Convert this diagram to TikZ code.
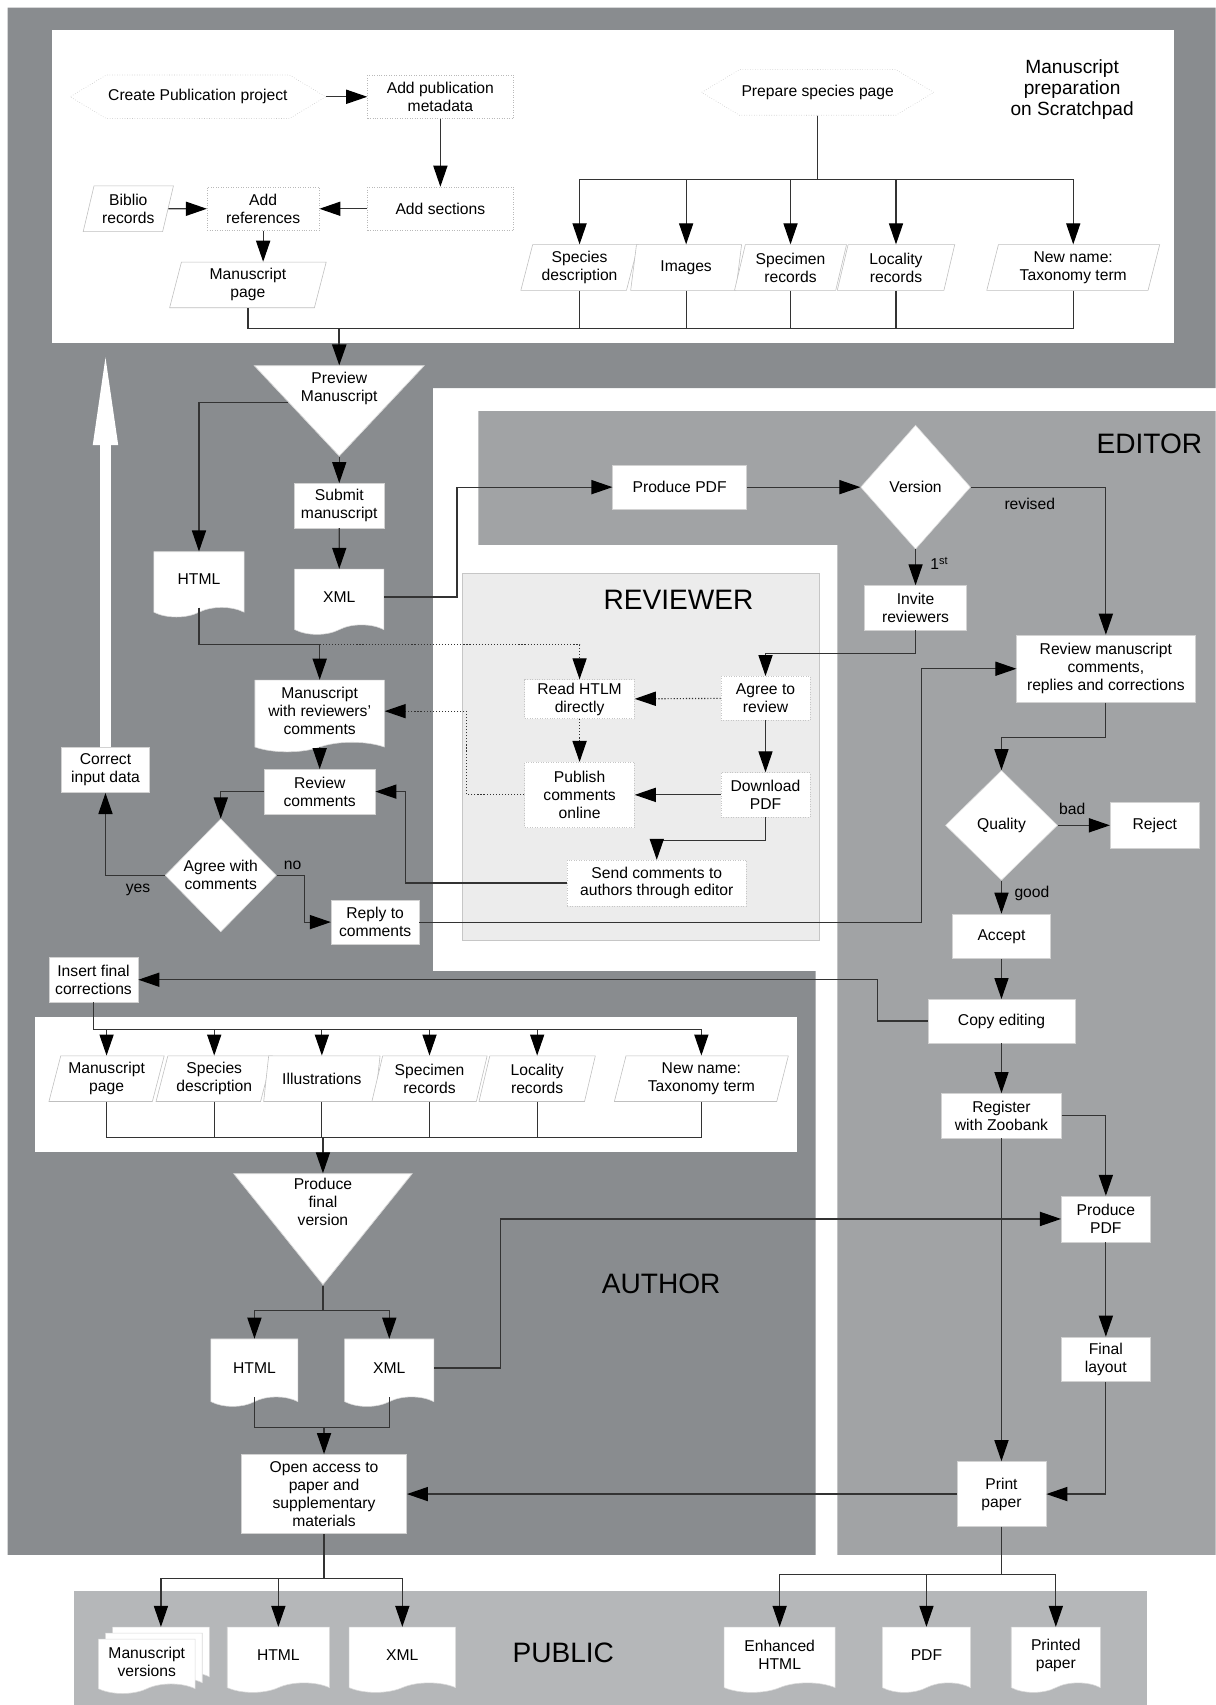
\documentclass[tikz,border=0pt]{standalone}
\usepackage{fontspec}
\setmainfont{Liberation Sans}
\usetikzlibrary{arrows.meta, shapes.geometric, shapes.symbols, calc}
\definecolor{authgray}{RGB}{137,140,143}
\definecolor{edgray}{RGB}{161,163,165}
\definecolor{revgray}{RGB}{236,236,236}
\definecolor{pubgray}{RGB}{181,183,185}
\newlength{\ux}
\setlength{\ux}{0.02cm}

\begin{document}
\begin{tikzpicture}[x=0.02cm, y=-0.02cm, >={Triangle[length=11pt,width=7.4pt,color=black]},
    every node/.style={font=\fontsize{8.2}{9.4}\selectfont, align=center, inner sep=1pt},
    box/.style={rectangle, fill=white, draw=gray!35, line width=0.3pt},
    dbox/.style={box, draw=gray!55, densely dotted},
    rbox/.style={box, draw=gray!45, densely dotted},
    para/.style={trapezium, trapezium left angle=72, trapezium right angle=108, trapezium stretches body,
      fill=white, draw=gray!50, line width=0.3pt, minimum height=42\ux},
    hexa/.style={signal, signal to=west and east, signal pointer angle=62, fill=white, draw=gray!45,
      densely dotted, line width=0.3pt},
    doc/.style={tape, tape bend top=none, tape bend bottom=in and out, tape bend height=5pt,
      fill=white, draw=gray!30, line width=0.3pt},
    dia/.style={diamond, fill=white, draw=gray!30, line width=0.3pt},
    tri/.style={isosceles triangle, isosceles triangle stretches, shape border rotate=270,
      fill=white, draw=gray!30, inner sep=0pt, anchor=north},
    conn/.style={draw=black!80, line width=0.6pt},
    arr/.style={conn, ->},
    big/.style={font=\fontsize{14.7}{17}\selectfont}]

  \useasboundingbox (0,0) rectangle (1118,1568);

  % backgrounds
  \fill[authgray] (7,7) -- (1118,7) -- (1118,357) -- (398,357) -- (398,893) -- (750,893)
    -- (750,1430) -- (7,1430) -- cycle;
  \fill[edgray] (440,378) -- (1118,378) -- (1118,1430) -- (770,1430) -- (770,501) -- (440,501) -- cycle;
  \filldraw[fill=revgray, draw=gray!45, line width=0.3pt] (425,527) rectangle (753,865);
  \fill[white] (48,28) rectangle (1080,315);
  \fill[white] (32,935) rectangle (733,1059);
  \fill[pubgray] (68,1463) rectangle (1055,1568);

  % manuscript preparation on Scratchpad
  \node[hexa, minimum width=226\ux, minimum height=40\ux] (cpp) at (182,89) {Create Publication project};
  \node[dbox, minimum width=134\ux, minimum height=40\ux] (apm) at (405,89) {Add publication\\metadata};
  \node[dbox, minimum width=134\ux, minimum height=40\ux] (ase) at (405,192) {Add sections};
  \node[dbox, minimum width=103\ux, minimum height=40\ux] (are) at (242,192) {Add\\references};
  \node[para, minimum width=83\ux] (bib) at (118,192) {Biblio\\records};
  \node[para, minimum width=144\ux] (mpg) at (228,262) {Manuscript\\page};
  \node[hexa, minimum width=211\ux, minimum height=42\ux] (psp) at (752,85) {Prepare species page};
  \node[para, minimum width=108\ux] (sd) at (533,246) {Species\\description};
  \node[para, minimum width=102\ux] (img) at (631,246) {Images};
  \node[para, minimum width=103\ux] (spr) at (727,246) {Specimen\\records};
  \node[para, minimum width=108\ux] (lor) at (824,246) {Locality\\records};
  \node[para, minimum width=159\ux] (nnt) at (987,246) {New name:\\Taxonomy term};
  \node[font=\fontsize{10}{11}\selectfont] (msp) at (986,82) {Manuscript\\preparation\\on Scratchpad};

  \draw[arr] (cpp.east) -- (apm.west);
  \draw[arr] (apm) -- (ase);
  \draw[arr] (ase) -- (are);
  \draw[arr] (bib) -- (are);
  \draw[arr] (are.south) -- (are.south |- mpg.north);
  \foreach \n in {sd,img,spr,lor,nnt}
    \draw[arr] (psp.south) -- ++(0,59) -| (\n.north);
  \coordinate (mbus) at (312,302);
  \foreach \n in {sd,img,spr,lor,nnt,mpg}
    \draw[conn] (\n.south) |- (mbus);

  % author
  \node[tri, minimum width=156\ux, minimum height=83\ux] (pv) at (312,336) {};
  \node (pvt) at (312,357) {Preview\\Manuscript};
  \node[box, minimum width=82\ux, minimum height=41\ux] (sub) at (312,465) {Submit\\manuscript};
  \node[doc, minimum width=82\ux, minimum height=60\ux] (xml1) at (312,549) {XML};
  \node[doc, minimum width=83\ux, minimum height=60\ux] (html1) at (183,533) {HTML};
  \node[doc, minimum width=119\ux, minimum height=66\ux] (mrc) at (294,654) {Manuscript\\with reviewers'\\comments};
  \node[box, minimum width=102\ux, minimum height=41\ux] (rvc) at (294,728) {Review\\comments};
  \node[dia, minimum width=101\ux, minimum height=104\ux] (agc) at (203,805) {Agree with\\comments};
  \node[box, minimum width=81\ux, minimum height=42\ux] (cid) at (97,708) {Correct\\input data};
  \node[box, minimum width=81\ux, minimum height=41\ux] (rtc) at (345,848) {Reply to\\comments};
  \node (yesl) at (127,818) {yes};
  \node (nol) at (269,796) {no};
  \coordinate (scp) at (97,318);

  \draw[white, line width=10\ux, -{Triangle[length=52pt,width=11.5pt]}] (cid.north) -- (scp);
  \draw[arr, line width=1.1pt] (mbus) -- (pv.north);
  \draw[arr] (pv.south) -- (sub.north);
  \draw[arr] (sub) -- (xml1);
  \draw[arr] (pv.west) -| (html1.north);
  \coordinate (hj) at (294,593);
  \draw[arr] (html1.south) |- (hj) -- (mrc.north);
  \draw[arr] (mrc) -- (rvc);
  \draw[arr] (rvc.west) -| (agc.north);
  \draw[arr] (agc.west) -| (cid.south);
  \draw[arr] (agc.east) -- ++(26,0) |- (rtc.west);

  % editor
  \node[big] (edl) at (1057,408) {EDITOR};
  \node[box, minimum width=123\ux, minimum height=41\ux] (ppdf) at (625,448) {Produce PDF};
  \node[dia, minimum width=101\ux, minimum height=114\ux] (ver) at (842,448) {Version};
  \node[box, minimum width=94\ux, minimum height=41\ux] (inv) at (842,559) {Invite\\reviewers};
  \node[box, minimum width=164\ux, minimum height=62\ux] (rmc) at (1017,615) {Review manuscript\\comments,\\replies and corrections};
  \node[dia, minimum width=103\ux, minimum height=101\ux] (qua) at (921,759) {Quality};
  \node[box, minimum width=82\ux, minimum height=42\ux] (rej) at (1062,759) {Reject};
  \node[box, minimum width=90\ux, minimum height=41\ux] (acc) at (921,861) {Accept};
  \node[box, minimum width=135\ux, minimum height=40\ux] (cpe) at (921,939) {Copy editing};
  \node[box, minimum width=110\ux, minimum height=41\ux] (reg) at (921,1026) {Register\\with Zoobank};
  \node[box, minimum width=82\ux, minimum height=42\ux] (ppdf2) at (1017,1121) {Produce\\PDF};
  \node[box, minimum width=82\ux, minimum height=41\ux] (fly) at (1017,1250) {Final\\layout};
  \node[box, minimum width=82\ux, minimum height=60\ux] (ppr) at (921,1374) {Print\\paper};
  \node (rvl) at (947,463) {revised};
  \node (fst) at (864,518) {1\textsuperscript{st}};
  \node (bdl) at (986,744) {bad};
  \node (gdl) at (949,822) {good};

  % reviewer
  \node[big] (rwl) at (624,552) {REVIEWER};
  \node[rbox, minimum width=101\ux, minimum height=36\ux] (rh) at (533,643) {Read HTLM\\directly};
  \node[rbox, minimum width=101\ux, minimum height=60\ux] (pco) at (533,731) {Publish\\comments\\online};
  \node[rbox, minimum width=82\ux, minimum height=40\ux] (agr) at (704,642) {Agree to\\review};
  \node[rbox, minimum width=82\ux, minimum height=41\ux] (dpd) at (704,731) {Download\\PDF};
  \node[rbox, minimum width=165\ux, minimum height=42\ux] (scm) at (604,812) {Send comments to\\authors through editor};

  \draw[arr] (xml1.east) -- ++(67,0) |- (ppdf.west);
  \draw[arr, densely dotted] (hj) -| (rh.north);
  \draw[arr] (ppdf) -- (ver);
  \draw[arr] (ver.east) -| (rmc.north);
  \draw[arr] (ver) -- (inv);
  \draw[arr] (inv.south) -- ++(0,21) -| (agr.north);
  \draw[arr, densely dotted] (agr) -- (rh);
  \draw[arr, densely dotted] (rh) -- (pco);
  \draw[arr] (agr) -- (dpd);
  \draw[arr] (dpd) -- (pco);
  \draw[arr] (dpd.south) -- ++(0,21) -| (scm.north);
  \draw[arr, densely dotted] (pco.west) -- ++(-53,0) |- (mrc.east);
  \draw[arr] (scm.west) -- ++(-148,0) |- (rvc.east);
  \draw[arr] (rtc.east) -- ++(462,0) |- (rmc.west);
  \draw[arr] (rmc.south) -- ++(0,32) -| (qua.north);
  \draw[arr] (qua) -- (rej);
  \draw[arr] (qua) -- (acc);
  \draw[arr] (acc) -- (cpe);
  \draw[arr] (cpe) -- (reg);
  \draw[arr] (reg.east) -| (ppdf2.north);
  \draw[arr] (reg) -- (ppr);
  \draw[arr] (ppdf2) -- (fly);
  \draw[arr] (fly.south) |- (ppr.east);

  % final version
  \node[box, minimum width=82\ux, minimum height=41\ux] (ifc) at (86,901) {Insert final\\corrections};
  \node[para, minimum width=106\ux] (fmp) at (98,992) {Manuscript\\page};
  \node[para, minimum width=107\ux] (fsd) at (197,992) {Species\\description};
  \node[para, minimum width=107\ux] (fil) at (296,992) {Illustrations};
  \node[para, minimum width=106\ux] (fsr) at (395,992) {Specimen\\records};
  \node[para, minimum width=107\ux] (flr) at (494,992) {Locality\\records};
  \node[para, minimum width=160\ux] (fnn) at (645,992) {New name:\\Taxonomy term};
  \node[tri, minimum width=164\ux, minimum height=102\ux] (pf) at (297,1079) {};
  \node (pft) at (297,1105) {Produce\\final\\version};
  \node[doc, minimum width=80\ux, minimum height=62\ux] (html2) at (234,1258) {HTML};
  \node[doc, minimum width=82\ux, minimum height=62\ux] (xml2) at (358,1258) {XML};
  \node[box, minimum width=152\ux, minimum height=73\ux] (oa) at (298,1374) {Open access to\\paper and\\supplementary\\materials};
  \node[big] (aul) at (608,1181) {AUTHOR};

  \draw[arr] (cpe.west) -- ++(-46,0) |- (ifc.east);
  \foreach \n in {fmp,fsd,fil,fsr,flr,fnn}
    \draw[arr] (ifc.south) -- ++(0,25) -| (\n.north);
  \coordinate (fbus) at (297,1046);
  \foreach \n in {fmp,fsd,fil,fsr,flr,fnn}
    \draw[conn] (\n.south) |- (fbus);
  \draw[arr] (fbus) -- (pf.north);
  \draw[arr] (pf.south) -- ++(0,23) -| (html2.north);
  \draw[arr] (pf.south) -- ++(0,23) -| (xml2.north);
  \draw[arr] (xml2.east) -- ++(61,0) |- (ppdf2.west);
  \coordinate (oaj) at (298,1313);
  \draw[conn] (html2.south) |- (oaj);
  \draw[conn] (xml2.south) |- (oaj);
  \draw[arr] (oaj) -- (oa);
  \draw[arr] (ppr) -- (oa);

  % public
  \node[doc, minimum width=89\ux, minimum height=50\ux] (mv3) at (148,1517) {};
  \node[doc, minimum width=89\ux, minimum height=50\ux] (mv2) at (141.5,1522.5) {};
  \node[doc, minimum width=89\ux, minimum height=50\ux] (mv) at (135,1528) {Manuscript\\versions};
  \node[doc, minimum width=94\ux, minimum height=60\ux] (ph) at (256,1522) {HTML};
  \node[doc, minimum width=98\ux, minimum height=60\ux] (px) at (370,1522) {XML};
  \node[big] (pbl) at (518,1520) {PUBLIC};
  \node[doc, minimum width=102\ux, minimum height=60\ux] (peh) at (717,1522) {Enhanced\\HTML};
  \node[doc, minimum width=81\ux, minimum height=60\ux] (ppd) at (852,1522) {PDF};
  \node[doc, minimum width=82\ux, minimum height=60\ux] (ppp) at (971,1522) {Printed\\paper};

  \foreach \n in {mv3,ph,px}
    \draw[arr] (oa.south) -- ++(0,41) -| (\n.north);
  \foreach \n in {peh,ppd,ppp}
    \draw[arr] (ppr.south) -- ++(0,44) -| (\n.north);
\end{tikzpicture}
\end{document}
